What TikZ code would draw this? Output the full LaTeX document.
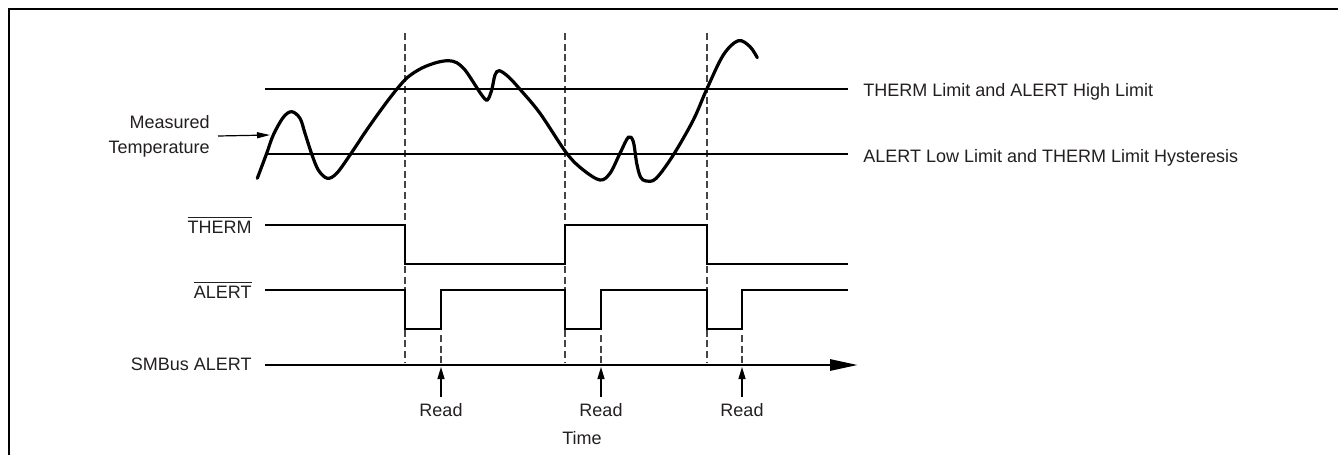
\documentclass[tikz,border=0pt]{standalone}
\usepackage{fontspec}
\setmainfont{Liberation Sans}
\usetikzlibrary{arrows.meta}
\definecolor{ink}{HTML}{231F20}
\definecolor{dashgray}{HTML}{444444}
\begin{document}
\begin{tikzpicture}[x=0.5pt,y=0.5pt,
  lbl/.style={font=\fontsize{9}{12.5}\selectfont, text=ink, inner sep=0pt},
  sig/.style={line width=1.45pt, line join=miter},
  lim/.style={line width=1.35pt},
  guide/.style={line width=0.65pt, draw=dashgray, dash pattern=on 3.5pt off 1.8pt},
  temp/.style={line width=1.6pt, line cap=round},
  readarrow/.style={line width=0.6pt, -{Triangle[length=6pt,width=3.5pt]}},
]
\useasboundingbox (0,0) rectangle (1338,-455);
% frame
\draw[line width=1.45pt] (9,-455) -- (9,-9) -- (1338,-9);

% time markers
\coordinate (e1) at (405,0); \coordinate (e2) at (565,0); \coordinate (e3) at (707,0);
\coordinate (r1) at (441,0); \coordinate (r2) at (601,0); \coordinate (r3) at (742,0);

% dashed guides
\foreach \p in {e1,e2,e3}
  \draw[guide] (\p |- 0,-33) -- (\p |- 0,-362);
\foreach \p in {r1,r2,r3}
  \draw[guide] (\p |- 0,-335) -- (\p |- 0,-363);

% limit lines
\draw[lim] (265,-89) -- (848,-89);
\draw[lim] (265,-154) -- (848,-154);

% temperature curve
\draw[temp] plot[smooth, tension=0.55] coordinates {
  (257.3,-178.3) (266.7,-153.3) (273.3,-135) (283.3,-117.3) (291.7,-111.7)
  (300,-118.3) (305,-133.3) (311.7,-154) (318.3,-170) (327.3,-178.3)
  (336.7,-173.3) (350,-155) (366.7,-130) (383.3,-106.7) (396.7,-89.3)
  (408,-77) (422,-68) (436.7,-62.5) (448.3,-60.7) (456.7,-62.7) (465,-70)
  (473,-81.7) (481.7,-95) (487.3,-100) (491.7,-90) (495,-75) (499.3,-70.7)
  (508.3,-76.7) (520,-89.3) (540,-113.3) (566.7,-153.3) (583.3,-170)
  (600,-180) (610,-173.3) (620,-153.3) (628.3,-137.3) (633.3,-141.7)
  (636.7,-163.3) (640.5,-177) (646,-181) (656,-178.5) (673.3,-155)
  (693.3,-120) (706.7,-89.3) (723.3,-55) (738.3,-40.7) (750,-46.7)
  (757.3,-57.7)};

% THERM signal
\draw[sig] (265,-225) -- (e1 |- 0,-225) -- (e1 |- 0,-264) -- (e2 |- 0,-264)
  -- (e2 |- 0,-225) -- (e3 |- 0,-225) -- (e3 |- 0,-264) -- (848,-264);
% ALERT signal
\draw[sig] (265,-290) -- (e1 |- 0,-290) -- (e1 |- 0,-329) -- (r1 |- 0,-329) -- (r1 |- 0,-290)
  -- (e2 |- 0,-290) -- (e2 |- 0,-329) -- (r2 |- 0,-329) -- (r2 |- 0,-290)
  -- (e3 |- 0,-290) -- (e3 |- 0,-329) -- (r3 |- 0,-329) -- (r3 |- 0,-290) -- (848,-290);
% SMBus ALERT axis
\coordinate (axs) at (265,-365);
\coordinate (axe) at (858,-365);
\draw[line width=1.45pt, -{Triangle[length=14pt,width=5.5pt]}] (axs) -- (axe);

% left labels
\node[lbl, anchor=base east] (lth) at (252,-233) {$\overline{\mbox{THERM}}$};
\node[lbl, anchor=base east] (lal) at (252,-298) {$\overline{\mbox{ALERT}}$};
\node[lbl, anchor=base east] (lsm) at (252,-370) {SMBus ALERT};
\node[lbl, anchor=east, align=right] (lmt) at (210,-136) {Measured\\Temperature};
\coordinate (mtip) at (270,-135);
\draw[line width=0.6pt, -{Triangle[length=6.5pt,width=3pt]}] (lmt.east) ++(8,0) -- (mtip);

% limit labels
\node[lbl, anchor=base west] (lhi) at (863,-96.5) {THERM Limit and ALERT High Limit};
\node[lbl, anchor=base west] (llo) at (863,-162) {ALERT Low Limit and THERM Limit Hysteresis};

% reads
\foreach \p/\n in {r1/rd1,r2/rd2,r3/rd3}{
  \node[lbl, anchor=base] (\n) at (\p |- 0,-416) {Read};
  \coordinate (\n t) at (\p |- 0,-367);
  \draw[readarrow] ([yshift=3pt]\n.north) -- (\n t);
}
\node[lbl, anchor=base] (time) at (582,-444) {Time};
\end{tikzpicture}
\end{document}
